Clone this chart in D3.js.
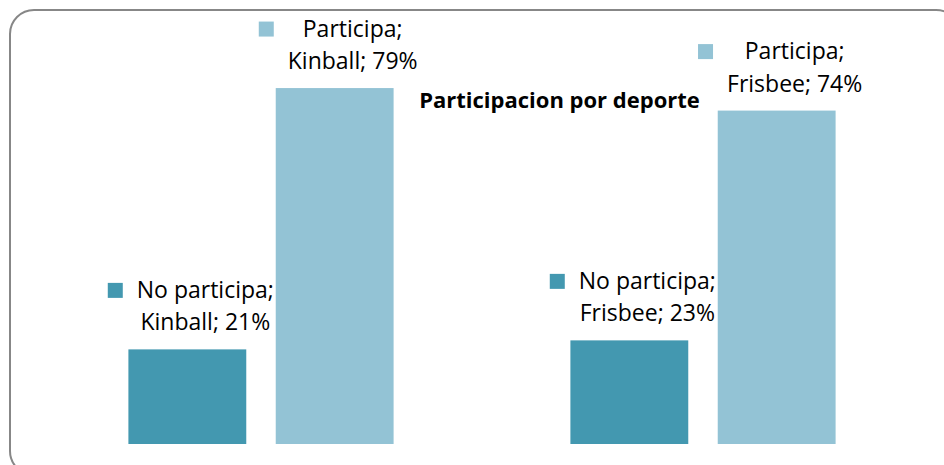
<!DOCTYPE html>
<html>
<head>
<meta charset="utf-8">
<script src="https://cdn.jsdelivr.net/npm/d3@7/dist/d3.min.js"></script>
<style>
  html, body { margin: 0; padding: 0; background: #fff; }
  svg { display: block; }
  text { font-family: "Open Sans", "Noto Sans", sans-serif; fill: #000; }
</style>
</head>
<body>
<svg id="chart" width="944" height="465"></svg>
<script>
// Sports (x groups) and participation series
const deportes = ["Kinball", "Frisbee"];
const series = ["No participa", "Participa"];
const noParticipa = [0.21, 0.23];
const participa = [0.79, 0.74];
const seriesColors = ["#4398B0", "#93C3D5"];
const title = "Participacion por deporte";

const W = 944, H = 465;
const svg = d3.select("#chart");

// Chart frame with rounded corners
svg.append("rect")
  .attr("x", 10).attr("y", 10)
  .attr("width", 950).attr("height", 465)
  .attr("rx", 24).attr("ry", 24)
  .attr("fill", "#fff")
  .attr("stroke", "#878787")
  .attr("stroke-width", 2);

const plot = { left: 40, right: 924, top: 38.5, bottom: 444 };

const x0 = d3.scaleBand()
  .domain(deportes)
  .range([plot.left, plot.right])
  .paddingInner(0.4)
  .paddingOuter(0.2);

const x1 = d3.scaleBand()
  .domain(series)
  .range([0, x0.bandwidth()])
  .paddingInner(0.2)
  .paddingOuter(0);

const y = d3.scaleLinear()
  .domain([0, 0.9])
  .range([plot.bottom, plot.top]);

const rows = [];
deportes.forEach((dep, i) => {
  rows.push({ dep, s: series[0], v: noParticipa[i], c: seriesColors[0] });
  rows.push({ dep, s: series[1], v: participa[i], c: seriesColors[1] });
});

// Bars
svg.append("g").selectAll("rect")
  .data(rows)
  .join("rect")
  .attr("x", d => x0(d.dep) + x1(d.s))
  .attr("y", d => y(d.v))
  .attr("width", x1.bandwidth())
  .attr("height", d => y(0) - y(d.v))
  .attr("fill", d => d.c);

// Data labels: "serie; categoría; valor" with legend key
const fmt = d3.format(".0%");
const fontSize = 23;
const lineGap = 32.5;
const labels = svg.append("g");
rows.forEach(d => {
  const cx = x0(d.dep) + x1(d.s) + x1.bandwidth() / 2 + 18;
  const base2 = y(d.v) - 19;
  const base1 = base2 - lineGap;
  const g = labels.append("g");
  const t1 = g.append("text")
    .attr("x", cx).attr("y", base1)
    .attr("text-anchor", "middle")
    .style("font-size", fontSize + "px")
    .text(d.s + ";");
  const t2 = g.append("text")
    .attr("x", cx).attr("y", base2)
    .attr("text-anchor", "middle")
    .style("font-size", fontSize + "px")
    .text(d.dep + "; " + fmt(d.v));
  const wMax = Math.max(t1.node().getComputedTextLength(), t2.node().getComputedTextLength());
  g.append("rect")
    .attr("x", cx - wMax / 2 - 14 - 15)
    .attr("y", base1 - 15)
    .attr("width", 15).attr("height", 15)
    .attr("fill", d.c);
});

// Title
svg.append("text")
  .attr("x", 559.5).attr("y", 108)
  .attr("text-anchor", "middle")
  .style("font-size", "22px")
  .style("font-weight", "bold")
  .text(title);
</script>
</body>
</html>
